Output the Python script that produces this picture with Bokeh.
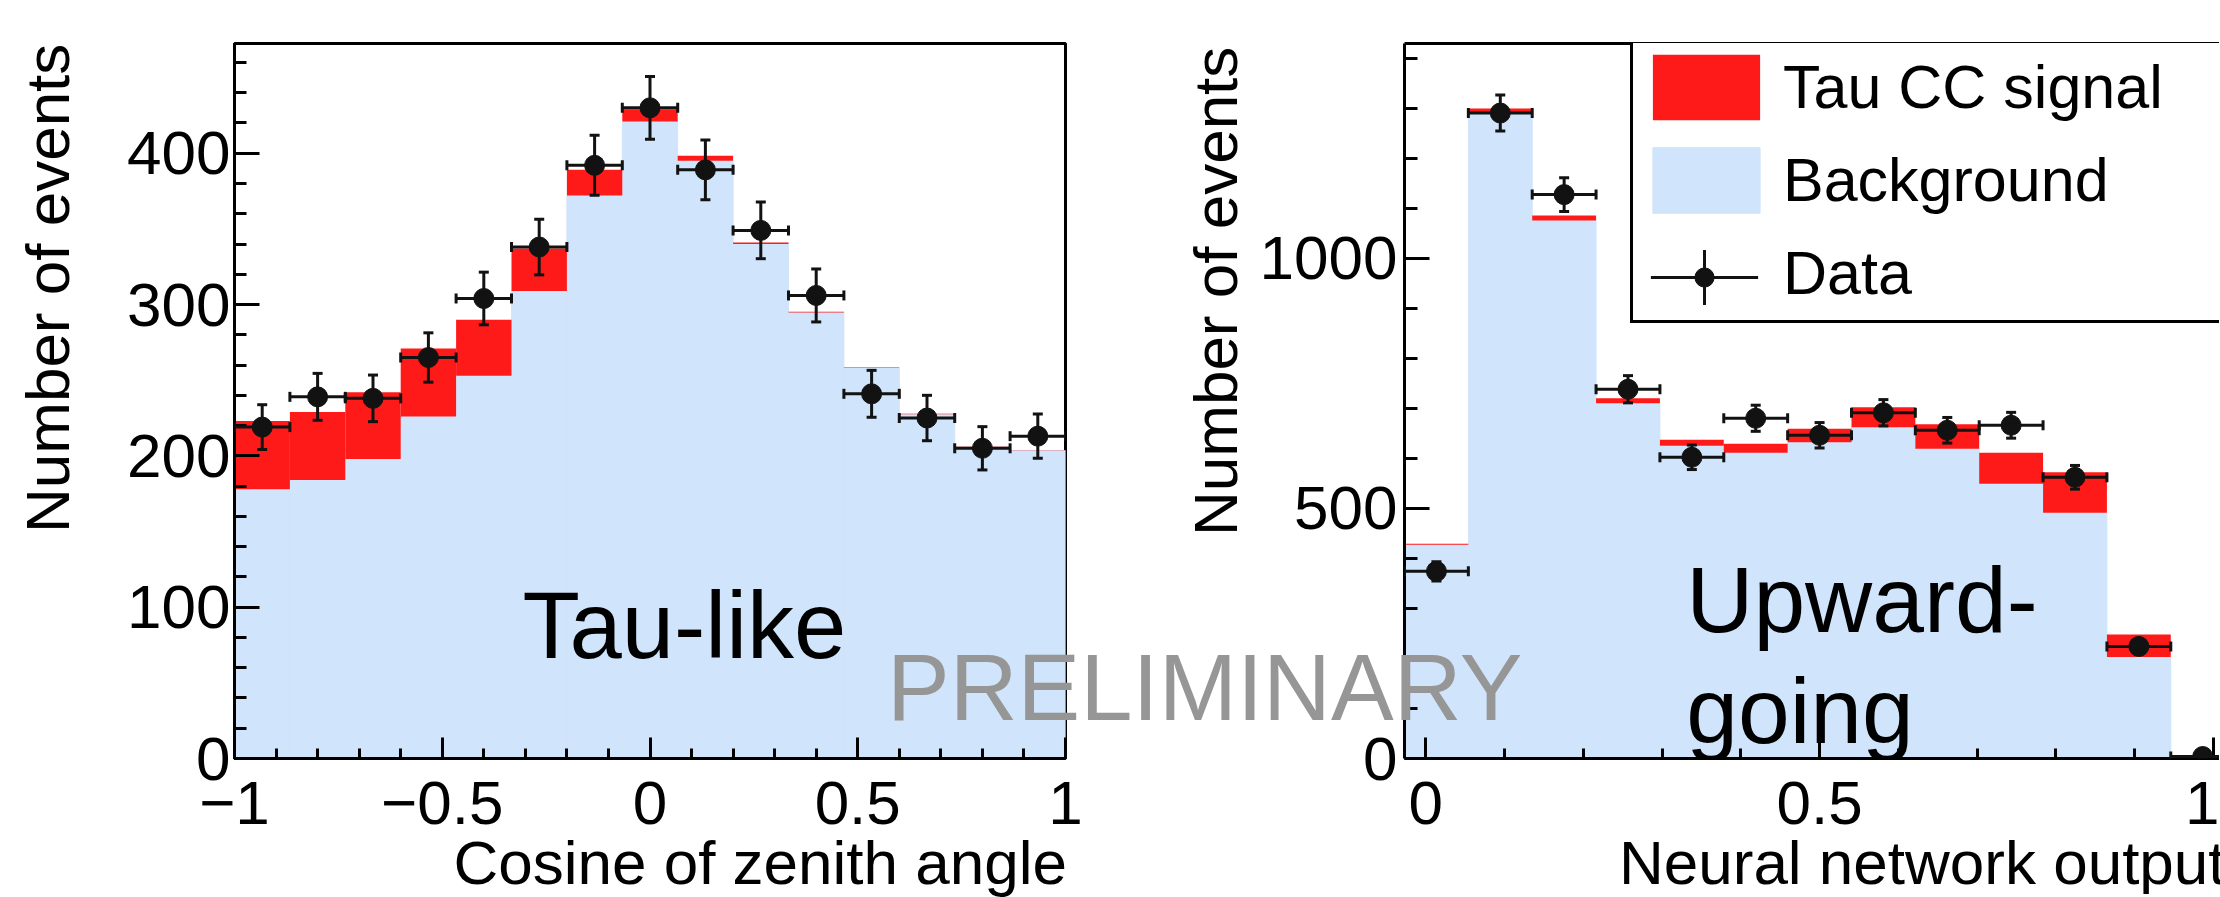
import numpy as np
from bokeh.plotting import figure
from bokeh.models import (ColumnDataSource, Range1d, FixedTicker, LinearAxis, Label, Div,
                          Whisker, TeeHead, Legend, LegendItem, CustomJSTickFormatter)
from bokeh.layouts import row
from bokeh.embed import file_html
from bokeh.resources import INLINE

# ---------------- data: left panel (Tau-like, cosine of zenith angle) ----------------
zen_nbins = 15
zen_lo, zen_hi = -1.0, 1.0
zen_background = [178, 184, 198, 226, 253, 309, 372, 421, 395, 340, 294.7, 258, 227.5, 205.7, 203.5]
zen_signal = [45, 45, 44, 45, 37, 28, 17, 8, 3.3, 1.0, 0.5, 0.4, 0.3, 0.3, 0.2]
zen_data = [219, 239, 238, 265, 304, 338, 392, 430, 389, 349, 306, 241, 225, 205, 213]
zen_err = [14.8, 15.5, 15.4, 16.3, 17.4, 18.4, 19.8, 20.7, 19.7, 18.7, 17.5, 15.5, 15.0, 14.3, 14.6]
zen_xticks = [-1, -0.5, 0, 0.5, 1]
zen_yticks = [0, 100, 200, 300, 400]

# ---------------- data: right panel (Upward-going, neural network output) ----------------
nn_nbins = 13
nn_lo, nn_hi = -0.027, 1.027
nn_background = [427, 1289, 1075, 710, 625, 611, 632, 662, 619, 549, 491, 203, 2]
nn_signal = [2, 10, 10, 10, 12, 18, 27, 40, 49, 62, 81, 45, 1]
nn_data = [374, 1290, 1127, 738, 602, 680, 646, 691, 656, 666, 562, 224, 4]
nn_err = [19.3, 35.9, 33.6, 27.2, 24.5, 26.1, 25.4, 26.3, 25.6, 25.8, 23.7, 15.0, 2.0]
nn_xticks = [0, 0.5, 1]
nn_yticks = [0, 500, 1000]

# ---------------- style ----------------
FONT = "Liberation Sans"
RED = "#ff1a1a"
BLUE = "#d0e4fb"
DARK = "#121212"
GRAY = "#969696"
H = 897

minus_fmt = CustomJSTickFormatter(code="return tick < 0 ? '\u2212' + String(Math.abs(tick)) : String(tick)")


def make_source(lo, hi, nbins, bg, sig, data, err):
    edges = np.linspace(lo, hi, nbins + 1)
    bg = np.asarray(bg, float)
    sig = np.asarray(sig, float)
    data = np.asarray(data, float)
    err = np.asarray(err, float)
    return ColumnDataSource(dict(
        left=edges[:-1], right=edges[1:], center=0.5 * (edges[:-1] + edges[1:]),
        bg=bg, top=bg + sig, data=data, lo=data - err, hi=data + err))


def style_axis(ax, ticks, minor, tick_in, minor_in, standoff):
    ax.ticker = FixedTicker(ticks=ticks, minor_ticks=minor)
    ax.formatter = minus_fmt
    ax.major_tick_in = tick_in
    ax.major_tick_out = 0
    ax.minor_tick_in = minor_in
    ax.minor_tick_out = 0
    ax.major_tick_line_width = 3
    ax.minor_tick_line_width = 3
    ax.major_tick_line_color = "black"
    ax.minor_tick_line_color = "black"
    ax.axis_line_width = 3
    ax.axis_line_color = "black"
    ax.major_label_text_font = FONT
    ax.major_label_text_font_size = "62px"
    ax.major_label_text_color = "black"
    ax.major_label_standoff = standoff
    ax.axis_label = None


def draw_hist(p, src):
    r_bg = p.quad(left="left", right="right", bottom=0, top="bg", source=src,
                  fill_color=BLUE, line_color=BLUE, line_width=1)
    r_sig = p.quad(left="left", right="right", bottom="bg", top="top", source=src,
                   fill_color=RED, line_color=None)
    r_dot = p.scatter(x="center", y="data", source=src, size=20, marker="circle",
                      fill_color=DARK, line_color=DARK)
    p.add_layout(Whisker(base="center", lower="lo", upper="hi", dimension="height", source=src,
                         line_color=DARK, line_width=3, level="annotation",
                         upper_head=TeeHead(size=10, line_color=DARK, line_width=3),
                         lower_head=TeeHead(size=10, line_color=DARK, line_width=3)))
    p.add_layout(Whisker(base="data", lower="left", upper="right", dimension="width", source=src,
                         line_color=DARK, line_width=3, level="annotation",
                         upper_head=TeeHead(size=10, line_color=DARK, line_width=3),
                         lower_head=TeeHead(size=10, line_color=DARK, line_width=3)))
    return r_bg, r_sig, r_dot


def text(p, x, y, s, size, color="black", align="left"):
    p.add_layout(Label(x=x, y=y, text=s, text_font=FONT, text_font_size=f"{size}px",
                       text_color=color, text_align=align, text_baseline="alphabetic"))


# ---------------- left figure ----------------
W1 = 1130
p1 = figure(width=W1, height=H, x_range=Range1d(zen_lo, zen_hi), y_range=Range1d(0, 472.5),
            min_border_left=234, min_border_right=W1 - 1065, min_border_top=43, min_border_bottom=139,
            output_backend="svg", toolbar_location=None)
p1.xgrid.visible = False
p1.ygrid.visible = False
p1.outline_line_color = "black"
p1.outline_line_width = 3
p1.outline_line_alpha = 1
p1.background_fill_color = "white"
p1.border_fill_color = "white"

src1 = make_source(zen_lo, zen_hi, zen_nbins, zen_background, zen_signal, zen_data, zen_err)
draw_hist(p1, src1)

style_axis(p1.xaxis[0], zen_xticks, [round(v, 2) for v in np.arange(-1, 1.001, 0.1)], 21, 10, 23)
style_axis(p1.yaxis[0], zen_yticks, list(range(0, 480, 20)), 25, 12, 4)

text(p1, -0.3069, 87.9, "Tau-like", 94)

# ---------------- right figure ----------------
W2 = 2220 - W1 - 1
B2 = 274
p2 = figure(width=W2, height=H, x_range=Range1d(nn_lo, nn_lo + (W2 - B2) / 787.6), y_range=Range1d(0, 1429),
            min_border_left=B2, min_border_right=0, min_border_top=43, min_border_bottom=139,
            output_backend="svg", toolbar_location=None)
p2.xgrid.visible = False
p2.ygrid.visible = False
p2.outline_line_color = None
p2.background_fill_color = "white"
p2.border_fill_color = "white"

src2 = make_source(nn_lo, nn_hi, nn_nbins, nn_background, nn_signal, nn_data, nn_err)
r_bg2, r_sig2, r_dot2 = draw_hist(p2, src2)

style_axis(p2.xaxis[0], nn_xticks, [round(v, 2) for v in np.arange(0, 1.001, 0.1)], 21, 10, 23)
style_axis(p2.yaxis[0], nn_yticks, list(range(0, 1500, 100)), 25, 13, 7)

top_ax = LinearAxis(ticker=FixedTicker(ticks=[], minor_ticks=[]), axis_line_width=3,
                    axis_line_color="black", major_tick_in=0, major_tick_out=0,
                    minor_tick_in=0, minor_tick_out=0, major_label_text_font_size="0px")
p2.add_layout(top_ax, "above")

text(p2, 0.3307, 315.8, "Upward-", 93)
text(p2, 0.3307, 95.9, "going", 93)

# legend proxies (hidden renderers, drawn only in the legend)
r_blank = p2.scatter(x="center", y="data", source=src2, size=1, fill_alpha=0, line_alpha=0, visible=False)
r_dash = p2.scatter(x="center", y="data", source=src2, marker="dash", size=10,
                    line_color=DARK, line_width=3, visible=False)
r_cross = p2.scatter(x="center", y="data", source=src2, marker="cross", size=10,
                     line_color=DARK, line_width=3, visible=False)

leg = Legend(items=[LegendItem(label="Tau CC signal", renderers=[r_sig2]),
                    LegendItem(label="Background", renderers=[r_bg2]),
                    LegendItem(label="Data", renderers=[r_blank])],
             location=(226, 435), glyph_width=134, glyph_height=82, padding=6, spacing=11,
             margin=0, label_standoff=10, label_width=600,
             label_text_font=FONT, label_text_font_size="61px", label_text_color="black",
             border_line_color="black", border_line_width=3, border_line_alpha=1,
             background_fill_color="white", background_fill_alpha=1)
p2.add_layout(leg)

# symbol centre of the "Data" legend row, in frame pixels (from left, from bottom)
cx, cy = 300, 481


def symbol_legend(renderer, g):
    return Legend(items=[LegendItem(label=" ", renderers=[renderer])],
                  location=(cx - g // 2, cy - g // 2), glyph_width=g, glyph_height=g,
                  padding=0, spacing=0, margin=0, label_standoff=0, label_width=0, label_height=0,
                  label_text_font_size="1px", border_line_color=None,
                  background_fill_alpha=0)


p2.add_layout(symbol_legend(r_dash, 268))
p2.add_layout(symbol_legend(r_cross, 138))
p2.add_layout(symbol_legend(r_dot2, 48))

# page-level texts: axis titles (ROOT style, aligned to the frame ends) and the
# "PRELIMINARY" watermark that spans both panels
BASE = ("position:fixed; margin:0; padding:0; white-space:nowrap; pointer-events:none; "
        "font-family:'Liberation Sans'; z-index:10; ")


def page_text(s, style):
    return f'<div style="{BASE}{style}">{s}</div>'


overlay_html = "".join([
    page_text("Cosine of zenith angle",
              "left:0px; width:1067px; text-align:right; top:832px; font-size:62px; "
              "line-height:62px; color:black;"),
    page_text("Neural network output",
              "left:1619px; width:601px; overflow:hidden; top:832px; font-size:62px; "
              "line-height:62px; color:black;"),
    page_text("Number of events",
              "left:17px; top:533px; font-size:62px; line-height:62px; color:black; "
              "transform-origin:0 0; transform:rotate(-90deg);"),
    page_text("Number of events",
              "left:1185px; top:536px; font-size:62px; line-height:62px; color:black; "
              "transform-origin:0 0; transform:rotate(-90deg);"),
    page_text("PRELIMINARY",
              "left:887px; top:641px; font-size:94px; line-height:94px; color:#969696;"),
])
overlay = Div(text=overlay_html, width=1, height=1, margin=0)

layout = row(p1, p2, overlay, spacing=0)
open("out.html", "w").write(file_html(layout, INLINE))
